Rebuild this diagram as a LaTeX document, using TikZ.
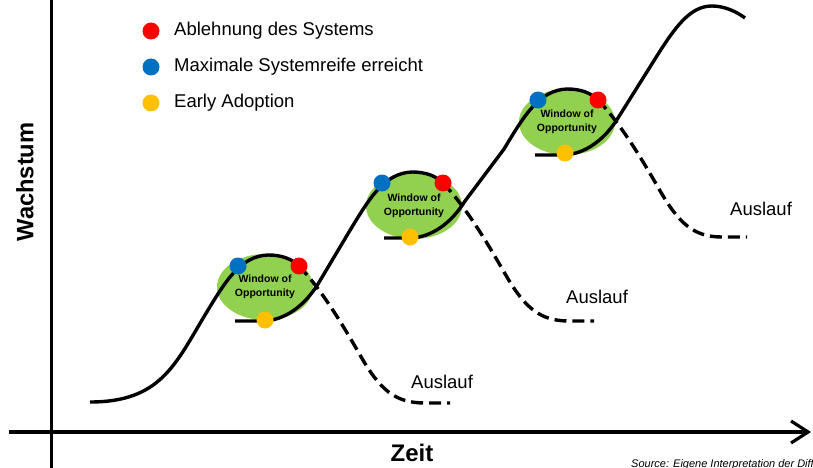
\documentclass[tikz,border=0pt]{standalone}
\usepackage{fontspec}
\setmainfont{Liberation Sans}
\usetikzlibrary{arrows.meta,shapes.geometric}
\definecolor{winGreen}{HTML}{92D050}
\definecolor{dotRed}{HTML}{FF0000}
\definecolor{dotBlue}{HTML}{0070C0}
\definecolor{dotYellow}{HTML}{FFC000}
\begin{document}
\begin{tikzpicture}[x=1pt,y=-1pt,
  axisline/.style={line width=3.2pt},
  growth/.style={line width=3.4pt},
  decline/.style={line width=3.4pt, dash pattern=on 12pt off 6pt},
  window/.style={ellipse, fill=winGreen, inner sep=0pt, minimum width=96pt,
    minimum height=66pt, align=center,
    font=\bfseries\fontsize{10.5}{13.5}\selectfont},
  dot/.style={circle, inner sep=0pt, minimum size=17pt},
  legendtext/.style={anchor=west, inner sep=0pt, font=\fontsize{18.5}{22}\selectfont},
  outlabel/.style={anchor=west, inner sep=0pt, font=\fontsize{18.5}{22}\selectfont}]
\clip (0,0) rectangle (813,468);

% axes
\coordinate (yTop) at (51.5,0);
\coordinate (yBot) at (51.5,468);
\coordinate (xLeft) at (9,432);
\coordinate (xRight) at (811,432);
\draw[axisline] (yTop) -- (yBot);
\draw[axisline, -{Straight Barb[length=17pt,width=22pt,line width=3.2pt]}] (xLeft) -- (xRight);
\node[rotate=90, font=\bfseries\fontsize{23.7}{28}\selectfont] (wachstum) at (25,182) {Wachstum};
\node[font=\bfseries\fontsize{24}{28}\selectfont] (zeit) at (412,453) {Zeit};
\node[anchor=west, inner sep=0pt, font=\itshape\fontsize{11}{13}\selectfont] (source) at (631,465)
  {Source: Eigene Interpretation der Diffusionstheorie};

% legend
\node[dot, fill=dotRed] (lRed) at (151,31) {};
\node[dot, fill=dotBlue] (lBlue) at (151,67) {};
\node[dot, fill=dotYellow] (lYellow) at (151,103) {};
\node[legendtext] (tRed) at (174,31) {Ablehnung des Systems};
\node[legendtext] (tBlue) at (174,67) {Maximale Systemreife erreicht};
\node[legendtext] (tYellow) at (174,103) {Early Adoption};

% windows of opportunity
\node[window] (w1) at (265,287) {Window of\\Opportunity};
\node[window] (w2) at (414,206) {Window of\\Opportunity};
\node[window] (w3) at (567,122) {Window of\\Opportunity};

% growth curve points
\coordinate (a0) at (90,402);
\coordinate (a1) at (205,315);
\coordinate (a2) at (268,255);
\coordinate (r1) at (299,266);
\coordinate (b0) at (235,321);
\coordinate (b1) at (262,321);
\coordinate (b2) at (318,284);
\coordinate (b3) at (349,232);
\coordinate (b4) at (412,172);
\coordinate (r2) at (443,183);
\coordinate (c0) at (384,238);
\coordinate (c1) at (409,238);
\coordinate (c2) at (465,201);
\coordinate (c3) at (504,149);
\coordinate (c4) at (567,89);
\coordinate (r3) at (598,100);
\coordinate (d0) at (535,155);
\coordinate (d1) at (562,155);
\coordinate (d2) at (618,118);
\coordinate (d3) at (655,59);
\coordinate (d4) at (712,6);
\coordinate (d5) at (745,18);

% solid growth curves
\draw[growth] (a0) .. controls (160,402) and (175,365) .. (a1)
  .. controls (225,282) and (240,256) .. (a2)
  .. controls (282,255) and (292,259) .. (r1);
\draw[growth] (b0) -- (b1) .. controls (285,321) and (305,305) .. (b2) -- (b3)
  .. controls (369,199) and (384,173) .. (b4)
  .. controls (426,172) and (436,176) .. (r2);
\draw[growth] (c0) -- (c1) .. controls (432,238) and (452,222) .. (c2) -- (c3)
  .. controls (524,116) and (539,90) .. (c4)
  .. controls (581,89) and (591,93) .. (r3);
\draw[growth] (d0) -- (d1) .. controls (585,155) and (605,139) .. (d2) -- (d3)
  .. controls (675,27) and (690,6) .. (d4)
  .. controls (725,6) and (737,12) .. (d5);

% declining curves
\coordinate (e1) at (450,403);
\coordinate (e2) at (594,321);
\coordinate (e3) at (747,237);
\draw[decline] (r1) .. controls (320,288) and (340,320) .. (360,355)
  .. controls (380,390) and (395,403) .. (425,403) -- (e1);
\draw[decline] (r2) .. controls (464,205) and (484,237) .. (504,272)
  .. controls (524,307) and (539,321) .. (569,321) -- (e2);
\draw[decline] (r3) .. controls (619,122) and (639,154) .. (659,189)
  .. controls (679,224) and (694,237) .. (722,237) -- (e3);
\node[outlabel] (aus1) at (411,382) {Auslauf};
\node[outlabel] (aus2) at (566,297) {Auslauf};
\node[outlabel] (aus3) at (730,209) {Auslauf};

% phase markers
\node[dot, fill=dotBlue] (m1b) at (238,266) {};
\node[dot, fill=dotRed] (m1r) at (r1) {};
\node[dot, fill=dotYellow] (m1y) at (265,320) {};
\node[dot, fill=dotBlue] (m2b) at (382,183) {};
\node[dot, fill=dotRed] (m2r) at (r2) {};
\node[dot, fill=dotYellow] (m2y) at (410,237) {};
\node[dot, fill=dotBlue] (m3b) at (538,100) {};
\node[dot, fill=dotRed] (m3r) at (r3) {};
\node[dot, fill=dotYellow] (m3y) at (565,153) {};
\end{tikzpicture}
\end{document}
